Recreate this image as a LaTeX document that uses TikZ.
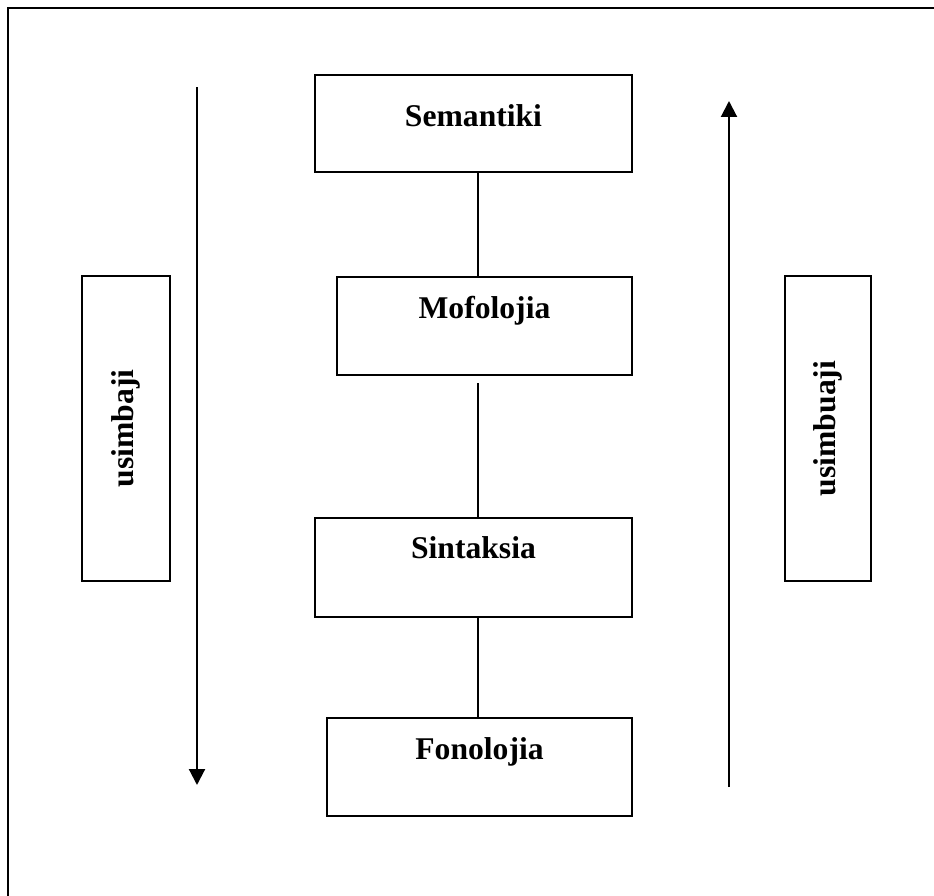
\documentclass[tikz,border=0pt]{standalone}
\usepackage{fontspec}
\setmainfont{Liberation Serif}
\usepackage{tikz}
\usetikzlibrary{arrows.meta, positioning}

\begin{document}
\begin{tikzpicture}[
  x=0.02cm, y=-0.02cm,
  font=\fontsize{18}{22}\selectfont\bfseries,
  every node/.style={align=center},
  layerbox/.style={
    draw, line width=1pt, anchor=north,
    inner sep=0pt, text height=0.84cm, text depth=1.12cm
  },
  sidebox/.style={
    draw, line width=1pt, rotate=90,
    inner sep=0pt, minimum width=6.1cm
  },
  link/.style={line width=0.9pt},
  flow/.style={-{Triangle[length=0.32cm, width=0.32cm]}, line width=1.2pt},
  frame/.style={line width=1.2pt},
]

\useasboundingbox (0,0) rectangle (934,896);

%% ─── Page frame (only top and left edges are visible) ────────────────────────

\draw[frame] (934,8) -- (8,8) -- (8,896);

%% ─── Layer boxes ─────────────────────────────────────────────────────────────

\node[layerbox, minimum width=6.34cm, text height=1.04cm, text depth=0.9cm]
  (sem) at (473.5, 74) {Semantiki};
\node[layerbox, minimum width=5.9cm]
  (mof) at (484.5, 276) {Mofolojia};
\node[layerbox, minimum width=6.34cm, text height=0.82cm, text depth=1.16cm]
  (syn) at (473.5, 517) {Sintaksia};
\node[layerbox, minimum width=6.1cm]
  (fon) at (479.5, 717) {Fonolojia};

%% ─── Side boxes ──────────────────────────────────────────────────────────────

\node[sidebox, minimum height=1.76cm] (enc) at (126, 428.5) {usimbaji};
\node[sidebox, minimum height=1.72cm] (dec) at (828, 428.5) {usimbuaji};

%% ─── Connecting lines ────────────────────────────────────────────────────────

\coordinate (spine) at (478, 0);
\coordinate (gap)   at (478, 383);

\draw[link] (sem.south -| spine) -- (mof.north -| spine);
\draw[link] (gap) -- (syn.north -| gap);
\draw[link] (syn.south -| spine) -- (fon.north -| spine);

%% ─── Direction arrows ────────────────────────────────────────────────────────

\coordinate (encstart) at (197, 87);
\coordinate (encend)   at (197, 785);
\coordinate (decstart) at (729, 787);
\coordinate (decend)   at (729, 101);

\draw[flow] (encstart) -- (encend);
\draw[flow] (decstart) -- (decend);

\end{tikzpicture}
\end{document}
